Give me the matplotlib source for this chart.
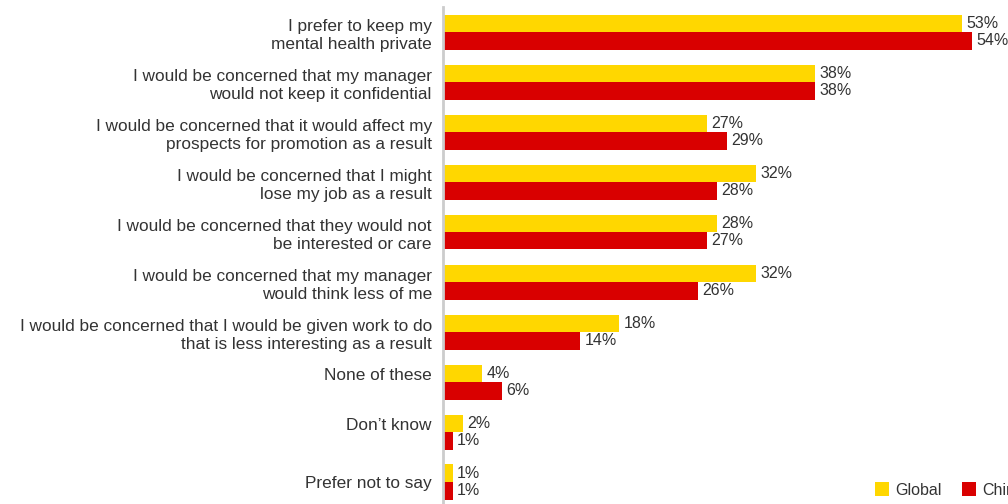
import matplotlib.pyplot as plt
import numpy as np

plt.rcParams['font.family'] = ['Liberation Sans', 'DejaVu Sans']

labels = [
    "I prefer to keep my\nmental health private",
    "I would be concerned that my manager\nwould not keep it confidential",
    "I would be concerned that it would affect my\nprospects for promotion as a result",
    "I would be concerned that I might\nlose my job as a result",
    "I would be concerned that they would not\nbe interested or care",
    "I would be concerned that my manager\nwould think less of me",
    "I would be concerned that I would be given work to do\nthat is less interesting as a result",
    "None of these\n ",
    "Don\u2019t know\n ",
    "Prefer not to say",
]
global_vals = [53, 38, 27, 32, 28, 32, 18, 4, 2, 1]
china_vals = [54, 38, 29, 28, 27, 26, 14, 6, 1, 1]

YELLOW = '#FFD700'
RED = '#D90000'
TXT = '#333333'

fig = plt.figure(figsize=(10.08, 5.04), dpi=100)
ax = fig.add_axes([443 / 1008, 0, 565 / 1008, 497 / 504])

y = np.arange(len(labels))
h = 0.35
b1 = ax.barh(y - h / 2, global_vals, height=h, color=YELLOW, label='Global')
b2 = ax.barh(y + h / 2, china_vals, height=h, color=RED, label='China')

for yy, v in zip(y - h / 2, global_vals):
    ax.text(v + 0.45, yy, f"{v}%", va='center', ha='left', fontsize=11.5, color=TXT)
for yy, v in zip(y + h / 2, china_vals):
    ax.text(v + 0.45, yy, f"{v}%", va='center', ha='left', fontsize=11.5, color=TXT)

ax.set_xlim(0, 565 / 9.79)
ax.set_ylim(9.44, -0.5)
ax.set_yticks(y)
ax.set_yticklabels(labels, fontsize=12.4, color=TXT, linespacing=1.28)
ax.tick_params(axis='y', length=0, pad=8)
ax.set_xticks([])
for s in ['top', 'right', 'bottom']:
    ax.spines[s].set_visible(False)
ax.spines['left'].set_color('#CCCCCC')
ax.spines['left'].set_linewidth(2)

fig.legend(handles=[b1, b2], loc='lower left', bbox_to_anchor=(867 / 1008, -0.003),
           frameon=False, ncol=2, fontsize=11.5, handlelength=0.9, handleheight=0.9,
           handletextpad=0.35, columnspacing=1.3, borderpad=0, labelcolor=TXT)

fig.savefig('out.png', dpi=100)
